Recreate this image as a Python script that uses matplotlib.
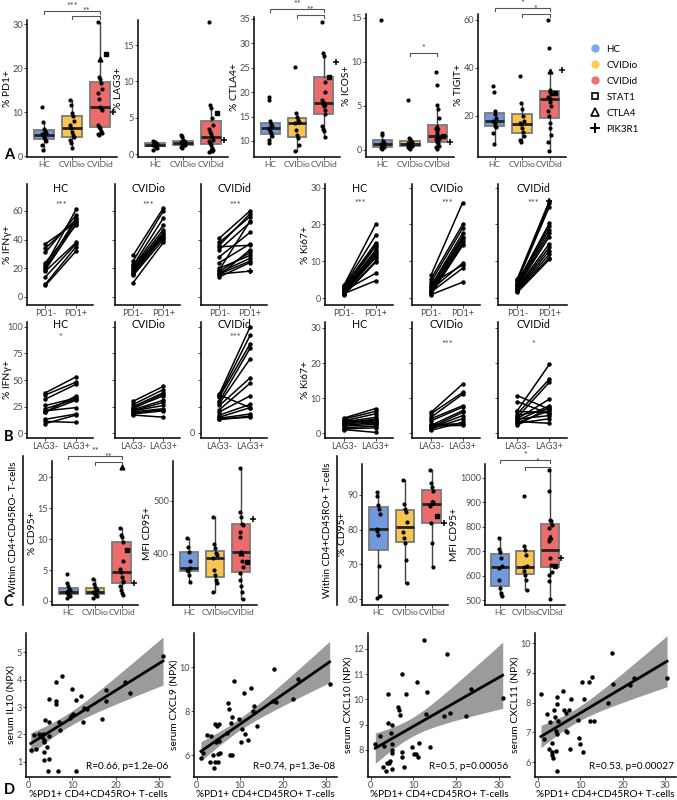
import numpy as np
import matplotlib.pyplot as plt
from matplotlib.lines import Line2D

plt.rcParams['font.family'] = ['Lato', 'DejaVu Sans']

# ---- data ----
groups = ['HC', 'CVIDio', 'CVIDid']
group_cols = ['#7199DE', '#F8C64E', '#EE6B6B']
legend_cols = ['#7FA6EE', '#FCCB52', '#F07272']

# panel A  (HC, CVIDio, CVIDid, [STAT1, CTLA4, PIK3R1])
pd1_hc = [11.3, 7.7, 6.2, 5.8, 5.3, 5.0, 4.7, 4.4, 4.0, 3.5, 2.5, 1.3]
pd1_o = [12.8, 11.6, 9.8, 9.1, 8.0, 7.0, 6.3, 5.5, 4.8, 4.3, 3.6, 2.9, 1.8]
pd1_d = [30.5, 18.0, 17.5, 16.7, 15.2, 14.3, 13.0, 11.3, 11.0, 10.5, 7.0, 6.6, 6.3, 5.8, 5.3, 5.0, 4.7]
pd1_mut = [23.3, 22.1, 10.0]

lag3_hc = [1.8, 1.7, 1.6, 1.5, 1.4, 1.3, 1.2, 1.1, 1.0, 0.8, 0.6]
lag3_o = [2.6, 2.3, 2.0, 1.8, 1.7, 1.6, 1.5, 1.4, 1.3, 1.2, 1.0, 0.8]
lag3_d = [18.2, 6.7, 6.3, 5.0, 4.0, 3.5, 3.0, 2.8, 2.3, 2.0, 1.8, 1.5, 1.2, 0.8, 0.5, 0.3]
lag3_mut = [5.7, 0.5, 2.0]

ctla4_hc = [18.9, 18.3, 14.0, 13.5, 13.0, 12.7, 12.4, 12.0, 11.6, 11.0, 10.2, 9.6]
ctla4_o = [25.2, 15.8, 15.0, 14.2, 13.8, 13.6, 12.2, 11.3, 10.5, 9.2, 8.0]
ctla4_d = [34.3, 28.1, 27.4, 22.0, 20.1, 18.3, 17.8, 17.2, 16.4, 15.5, 13.0, 12.5, 12.0, 10.8]
ctla4_mut = [23.0, 17.8, 26.1]

icos_hc = [14.8, 1.9, 1.7, 1.0, 0.8, 0.7, 0.6, 0.5, 0.4, 0.3, 0.2, 0.1]
icos_o = [5.7, 1.4, 1.2, 1.0, 0.9, 0.8, 0.7, 0.6, 0.5, 0.4, 0.3, 0.2, 0.1]
icos_d = [8.9, 7.4, 5.1, 4.6, 3.6, 2.5, 2.2, 1.8, 1.5, 1.3, 1.2, 1.1, 0.9, 0.8, 0.5, 0.3, 0.1]
icos_mut = [1.6, 2.6, 0.9]

tigit_hc = [32.5, 30.0, 22.0, 21.0, 19.0, 18.0, 17.5, 17.0, 16.0, 15.5, 13.0, 8.5]
tigit_o = [36.8, 25.5, 23.0, 20.0, 18.0, 17.0, 16.5, 15.0, 13.5, 11.5, 10.0, 9.0]
tigit_d = [60.0, 48.5, 31.0, 30.0, 29.0, 28.0, 27.5, 27.0, 26.0, 24.0, 22.0, 20.0, 17.0, 15.0, 12.0, 9.0, 5.5]
tigit_mut = [29.5, 38.8, 39.0]

# panel B  paired values (negative, positive)
ifng_pd1_hc = ([37, 34, 31, 24, 22, 21, 19, 18, 14, 9, 8, 20],
               [52, 54, 57, 50, 61, 53, 51, 38, 37, 35, 32, 55])
ifng_pd1_o = ([29, 25, 22, 21, 20, 19, 18, 17, 16, 15, 10, 23],
              [62, 60, 55, 50, 47, 45, 44, 43, 42, 40, 38, 41])
ifng_pd1_d = ([41, 38, 36, 35, 33, 28, 24, 20, 19, 18, 17, 16, 15, 14, 16],
              [60, 56, 58, 36, 52, 45, 37, 29, 53, 31, 27, 25, 33, 24, 18])
ki_pd1_hc = ([3.5, 3.3, 3.0, 2.8, 2.5, 2.2, 2.0, 1.8, 1.5, 1.3, 1.0, 0.8, 2.0, 1.2],
             [20, 17, 15, 14.5, 14, 13, 12.5, 12, 11.5, 11, 10, 9.7, 6.7, 4.7])
ki_pd1_o = ([6.2, 5.2, 4.3, 3.3, 2.9, 2.4, 1.9, 1.4, 1.0, 2.2, 3.8, 1.6, 0.9],
            [25.9, 20, 19, 17.6, 16.7, 16.2, 15.5, 14.8, 14.3, 9.5, 9.0, 8.1, 4.3])
ki_pd1_d = ([5.2, 4.8, 4.5, 4.2, 3.9, 3.6, 3.3, 3.0, 2.8, 2.5, 2.2, 2.0, 1.8, 1.5],
            [26.4, 25.7, 24.8, 20.3, 19.5, 18.6, 17.6, 16.7, 14.8, 13.8, 12.9, 11.9, 11.0, 10.5])
ifng_lag3_hc = ([38, 36, 32, 26, 23, 21, 20, 13, 11, 9, 20],
                [53, 48, 46, 33, 32, 24, 35, 18, 10, 17, 31])
ifng_lag3_o = ([30, 27, 25, 23, 22, 21, 21, 20, 19, 18, 17, 24],
               [44, 41, 38, 37, 31, 29, 26, 23, 22, 21, 15, 35])
ifng_lag3_d = ([37, 35, 34, 30, 28, 26, 22, 20, 17, 15, 14, 13, 13, 36],
               [100, 92, 84, 80, 70, 52, 47, 35, 27, 24, 18, 16, 15, 24])
ki_lag3_hc = ([4.3, 4.0, 3.5, 3.2, 3.0, 2.5, 2.2, 2.0, 1.5, 1.2, 1.0, 3.8, 2.7],
              [7.0, 6.2, 5.5, 4.5, 4.0, 3.5, 3.0, 2.5, 2.0, 1.5, 0.2, 2.8, 3.8])
ki_lag3_o = ([5.9, 5.5, 4.5, 4.1, 3.5, 2.2, 1.7, 1.5, 1.2, 0.8, 2.5, 2.0],
             [14.0, 11.6, 11.1, 7.8, 7.4, 6.4, 5.9, 5.0, 4.1, 3.1, 2.6, 2.2])
ki_lag3_d = ([10.7, 9.0, 6.4, 5.5, 4.5, 4.1, 3.6, 2.2, 5.0, 3.0, 4.0, 2.8, 3.3, 6.2],
             [6.8, 5.5, 19.6, 15.4, 14.5, 9.7, 7.8, 7.4, 6.9, 6.4, 5.0, 4.1, 2.8, 5.8])

# panel C
cd95_hc = [4.3, 2.9, 2.4, 1.9, 1.7, 1.5, 1.4, 1.2, 1.0, 0.8, 0.4]
cd95_o = [3.5, 2.8, 2.3, 2.0, 1.8, 1.5, 1.4, 1.2, 1.0, 0.8, 0.5]
cd95_d = [11.8, 10.7, 10.4, 9.6, 6.4, 5.2, 4.6, 3.8, 3.3, 3.1, 2.4, 1.8, 1.3, 0.9]
cd95_mut = [8.2, 21.7, 2.9]

mfi_hc = [430, 414, 404, 386, 373, 370, 368, 361, 348]
mfi_o = [470, 418, 411, 402, 398, 392, 370, 361, 351, 345, 329]
mfi_d = [562, 479, 470, 457, 454, 442, 432, 404, 386, 376, 364, 351, 339, 329, 315]
mfi_mut = [384, 402, 465]

cd95ro_hc = [90.8, 89.6, 87.2, 86.0, 84.5, 80.2, 79.5, 78.6, 69.5, 60.9, 60.2]
cd95ro_o = [94.3, 87.3, 86.0, 85.0, 82.2, 79.3, 77.6, 76.2, 71.2, 64.7]
cd95ro_d = [97.2, 93.3, 92.4, 91.0, 88.0, 86.7, 81.9, 76.2, 69.2]
cd95ro_mut = [84.0, 87.9, 82.0]

mfiro_hc = [754, 709, 696, 672, 640, 631, 583, 549, 531, 518]
mfiro_o = [925, 720, 706, 686, 640, 634, 618, 604, 583, 542]
mfiro_d = [1034, 945, 829, 822, 808, 795, 740, 672, 645, 617, 604, 579, 504]
mfiro_mut = [641, 760, 672]

# panel D  (x = %PD1+ CD4+CD45RO+ T-cells)
il10_x = [0.5, 1.15, 1.7, 2.3, 2.6, 3.1, 3.2, 3.6, 3.6, 3.6, 3.5, 3.8, 4.2, 4.4, 4.6, 4.6, 4.6, 4.8,
          6.2, 6.3, 6.3, 6.7, 7.1, 7.2, 7.7, 9.5, 9.8, 10.0, 10.3, 10.8, 10.9, 12.1, 12.5, 12.8,
          13.4, 16.9, 17.7, 17.8, 22.1, 23.2, 30.9]
il10_y = [1.42, 1.97, 1.48, 2.03, 1.94, 1.91, 2.03, 1.79, 1.73, 1.36, 1.06, 2.52, 1.55, 0.67, 3.3, 2.45,
          1.94, 1.12, 3.21, 3.1, 3.91, 0.67, 2.45, 2.18, 4.15, 2.6, 2.67, 3.67, 2.73, 3.27, 0.67,
          3.39, 2.45, 2.97, 2.94, 2.57, 3.62, 3.21, 3.91, 3.5, 4.85]
cxcl9_x = [1.0, 1.5, 2.3, 3.0, 3.3, 3.8, 4.0, 4.2, 4.2, 4.6, 4.8, 5.0, 5.0, 5.2, 5.3, 5.5, 7.0, 7.2,
           7.4, 7.8, 8.0, 8.1, 8.2, 8.6, 9.9, 10.2, 10.5, 11.0, 11.2, 11.8, 12.5, 13.0, 13.3, 14.0,
           17.7, 18.0, 18.3, 22.3, 23.5, 30.8]
cxcl9_y = [5.85, 6.1, 6.9, 5.7, 6.85, 6.0, 5.4, 7.4, 5.7, 6.6, 7.3, 5.7, 6.05, 7.4, 6.65, 6.1, 7.0, 8.35,
           8.1, 6.0, 7.45, 6.0, 7.75, 9.35, 7.65, 6.6, 7.2, 8.8, 6.95, 6.7, 9.05, 8.0, 8.25, 7.3,
           8.45, 9.9, 8.4, 8.55, 9.45, 9.25]
cxcl10_x = [1.1, 2.3, 2.8, 3.2, 3.6, 3.8, 4.1, 4.1, 4.4, 4.6, 4.7, 5.0, 5.0, 5.0, 5.1, 5.0, 6.5, 6.7,
            6.8, 7.3, 7.3, 7.4, 7.8, 8.2, 9.7, 10.1, 10.5, 10.9, 11.0, 11.4, 12.5, 13.0, 13.2, 13.8,
            17.2, 17.7, 18.4, 22.3, 23.5, 30.8]
cxcl10_y = [8.24, 8.55, 7.33, 8.17, 7.18, 7.47, 10.2, 9.06, 7.5, 7.58, 8.69, 8.99, 8.24, 8.0, 7.87, 7.24,
            9.69, 9.58, 9.39, 7.93, 7.71, 11.0, 7.32, 10.2, 8.13, 7.84, 7.84, 10.7, 7.74, 8.27,
            12.36, 9.43, 10.3, 8.13, 9.35, 11.8, 9.48, 9.36, 10.4, 10.07]
cxcl11_x = [0.8, 1.4, 2.1, 2.6, 2.9, 3.3, 3.5, 3.5, 3.7, 3.8, 4.0, 4.3, 4.4, 4.6, 4.6, 4.6, 4.6, 4.8,
            6.0, 6.3, 6.6, 6.7, 6.9, 7.3, 7.5, 7.9, 9.6, 9.8, 9.9, 10.5, 10.7, 10.9, 12.1, 12.4,
            12.7, 13.2, 16.6, 17.4, 17.6, 21.6, 22.7, 30.4]
cxcl11_y = [8.28, 6.79, 7.63, 6.45, 7.35, 6.34, 6.64, 6.23, 6.15, 7.75, 7.52, 6.37, 7.04, 8.2, 7.94, 6.95,
            5.7, 7.38, 8.4, 7.75, 7.66, 7.05, 7.0, 7.75, 6.45, 8.12, 7.4, 6.82, 6.62, 8.7, 6.34,
            8.12, 8.7, 7.38, 8.87, 7.38, 8.0, 9.68, 8.64, 8.6, 8.82, 8.82]
corr_text = ['R=0.66, p=1.2e-06', 'R=0.74, p=1.3e-08', 'R=0.5, p=0.00056', 'R=0.53, p=0.00027']

# ---- figure ----
W, H = 677, 800
fig = plt.figure(figsize=(W / 100, H / 100), dpi=100)
TICK = '#4D4D4D'
TS = 6.6   # tick label size
LS = 7.4   # axis title size
SIG = '#444444'


def px_axes(l, t, r, b):
    return fig.add_axes([l / W, 1 - b / H, (r - l) / W, (b - t) / H])


def classic(ax):
    for s in ['top', 'right']:
        ax.spines[s].set_visible(False)
    for s in ['left', 'bottom']:
        ax.spines[s].set_linewidth(1.1)
    ax.tick_params(length=2, width=0.6, colors='#333333', labelcolor=TICK, labelsize=TS, pad=0.8)


def ylab(ax, text):
    ax.set_ylabel(text, fontsize=LS, labelpad=0.6)


def jitter(n):
    return ((np.arange(n) % 5) - 2) * 0.03


def box_panel(rect, hc, o, d, mut, ylim, yticks, ylabel, sigs=()):
    ax = px_axes(*rect)
    classic(ax)
    vals = [hc, o, d + mut]
    bp = ax.boxplot(vals, positions=[1, 2, 3], widths=0.7, patch_artist=True, showfliers=False,
                    medianprops=dict(color='#222222', lw=2.0),
                    boxprops=dict(edgecolor='#7A7A7A', lw=1.3),
                    whiskerprops=dict(color='#444444', lw=1.0), capprops=dict(lw=0))
    for patch, c in zip(bp['boxes'], group_cols):
        patch.set_facecolor(c)
    for i, v in enumerate([hc, o, d]):
        ax.plot(i + 1 + jitter(len(v)), v, 'o', color='black', ms=3.0, mew=0, zorder=3)
    ax.plot(3.2, mut[0], 's', color='black', ms=3.0, zorder=4)
    ax.plot(3.0, mut[1], '^', color='black', ms=3.4, zorder=4)
    ax.plot(3.45, mut[2], '+', color='black', ms=5.0, mew=1.1, zorder=4)
    ax.set_xlim(0.4, 3.6)
    ax.set_ylim(*ylim)
    ax.set_yticks(yticks)
    ax.set_xticks([1, 2, 3], groups)
    ax.tick_params(axis='x', labelsize=6.1)
    ylab(ax, ylabel)
    hpx = (rect[3] - rect[1])
    dd = (ylim[1] - ylim[0]) * 3 / hpx
    for x1, x2, y, lab in sigs:
        ax.plot([x1, x1, x2, x2], [y - dd, y, y, y - dd], color='#555555', lw=0.8, clip_on=False)
        ax.text((x1 + x2) / 2, y + dd * 0.1, lab, ha='center', va='bottom', fontsize=6.5, color=SIG)
    return ax


def pair_panel(rect, pairs, ylim, yticks, title, title_y, sig, sig_y, xlabs, ylabel=None):
    ax = px_axes(*rect)
    classic(ax)
    neg, pos = pairs
    for a, b in zip(neg, pos):
        ax.plot([1, 2], [a, b], '-o', color='black', lw=1.1, ms=2.2)
    ax.set_xlim(0.4, 2.55)
    ax.set_ylim(*ylim)
    ax.set_yticks(yticks)
    ax.set_xticks([1, 2], xlabs)
    if ylabel:
        ylab(ax, ylabel)
    else:
        ax.set_yticklabels([])
    ax.text(1.5, title_y, title, ha='center', va='center', fontsize=LS + 0.3)
    if sig:
        ax.text(1.5, sig_y, sig, ha='center', va='center', fontsize=6.5, color=SIG)
    return ax


# ---- panel A ----
box_panel((27, 20, 117, 157), pd1_hc, pd1_o, pd1_d, pd1_mut, (-0.2, 31), [0, 10, 20, 30], '% PD1+',
          [(1, 3, 33.0, '***'), (2, 3, 31.8, '**')])
box_panel((138, 20, 228, 157), lag3_hc, lag3_o, lag3_d, lag3_mut, (-0.4, 18.45), [0, 5, 10, 15], '% LAG3+')
box_panel((254, 17, 340, 157), ctla4_hc, ctla4_o, ctla4_d, ctla4_mut, (6.7, 35.4), [10, 15, 20, 25, 30, 35],
          '% CTLA4+', [(1, 3, 37.0, '**'), (2, 3, 35.8, '**')])
box_panel((366, 14, 454, 157), icos_hc, icos_o, icos_d, icos_mut, (-0.8, 15.45), [0, 5, 10, 15], '% ICOS+',
          [(2, 3, 11.0, '*')])
box_panel((478, 14, 566, 157), tigit_hc, tigit_o, tigit_d, tigit_mut, (2.9, 62.5), [20, 40, 60], '% TIGIT+',
          [(1, 3, 65.0, '*'), (2, 3, 62.5, '*')])

handles = [Line2D([], [], ls='', marker='o', ms=6, mew=0, color=c) for c in legend_cols]
handles += [Line2D([], [], ls='', marker='s', ms=5, mfc='none', mec='black', mew=1.2),
            Line2D([], [], ls='', marker='^', ms=5.5, mfc='none', mec='black', mew=1.2),
            Line2D([], [], ls='', marker='+', ms=6.5, color='black', mew=1.4)]
fig.legend(handles, groups + ['STAT1', 'CTLA4', 'PIK3R1'], loc='upper left',
           bbox_to_anchor=(585 / W, 1 - 41 / H), frameon=False, fontsize=7, labelspacing=0.72,
           handletextpad=0.6, handlelength=1.2, borderaxespad=0)

# ---- panel B ----
lefts = [(27, 93), (115, 180), (201, 267)]
rights = [(325, 393), (412, 480), (498, 567)]
row1 = [ifng_pd1_hc, ifng_pd1_o, ifng_pd1_d]
row1k = [ki_pd1_hc, ki_pd1_o, ki_pd1_d]
row2 = [ifng_lag3_hc, ifng_lag3_o, ifng_lag3_d]
row2k = [ki_lag3_hc, ki_lag3_o, ki_lag3_d]
sig_r2 = ['*', '', '***']
sig_r2k = ['', '***', '*']
for i in range(3):
    ax = pair_panel((lefts[i][0], 184, lefts[i][1], 305), row1[i], (-5.6, 78.7), [0, 20, 40, 60], groups[i],
                    75.8, '***', 64, ['PD1-', 'PD1+'], '% IFNγ+' if i == 0 else None)
    if i == 2:
        ax.plot(2, row1[i][1][-1], '+', color='black', ms=5, mew=1.1)
    ax = pair_panel((rights[i][0], 184, rights[i][1], 305), row1k[i], (-1.9, 31), [0, 10, 20, 30], groups[i],
                    29.9, '***', 25.7, ['PD1-', 'PD1+'], '% Ki67+' if i == 0 else None)
    if i == 2:
        ax.plot(2, row1k[i][1][0], '+', color='black', ms=5, mew=1.1)
    ax = pair_panel((lefts[i][0], 322, lefts[i][1], 438), row2[i], (-4.6, 104.6), [0, 25, 50, 75, 100],
                    groups[i], 102.0, sig_r2[i], 90, ['LAG3-', 'LAG3+'], '% IFNγ+' if i == 0 else None)
    if i == 0:
        # three-digit ticks: keep the title inside the figure
        ax.yaxis.label.set_va('center')
        ax.yaxis.set_label_coords(-20 / 66, 0.5)
    if i == 2:
        ax.text(-0.09, 0, '0', transform=ax.get_yaxis_transform(), ha='right', va='center',
                fontsize=TS, color=TICK)
    pair_panel((rights[i][0], 322, rights[i][1], 438), row2k[i], (-1.4, 31.7), [0, 10, 20, 30],
               groups[i], 31.0, sig_r2k[i], 25.3, ['LAG3-', 'LAG3+'], '% Ki67+' if i == 0 else None)

# ---- panel C ----
box_panel((52, 461, 138, 605), cd95_hc, cd95_o, cd95_d, cd95_mut, (-0.65, 22.6), [0, 5, 10, 15, 20],
          '% CD95+', [(1, 3, 23.4, '**'), (2, 3, 22.4, '**')])
box_panel((173, 461, 257, 605), mfi_hc, mfi_o, mfi_d, mfi_mut, (304, 575), [400, 500], 'MFI CD95+')
box_panel((362, 464, 448, 605), cd95ro_hc, cd95ro_o, cd95ro_d, cd95ro_mut, (58.3, 98.9), [60, 70, 80, 90],
          '% CD95+')
box_panel((485, 464, 565, 605), mfiro_hc, mfiro_o, mfiro_d, mfiro_mut, (480, 1057),
          [500, 600, 700, 800, 900, 1000], 'MFI CD95+', [(1, 3, 1072, '*'), (2, 3, 1043, '*')])
for xl in [23, 337]:
    fig.add_artist(Line2D([xl / W, xl / W], [1 - 605 / H, 1 - 456 / H], color='black', lw=1.1))
fig.text(14 / W, 1 - 528 / H, 'Within CD4+CD45RO- T-cells', rotation=90, ha='center', va='center', fontsize=7.2)
fig.text(328 / W, 1 - 530 / H, 'Within CD4+CD45RO+ T-cells', rotation=90, ha='center', va='center', fontsize=7.2)

# ---- panel D ----
d_sets = [(il10_x, il10_y, 'serum IL10 (NPX)', (0.45, 5.7), [1, 2, 3, 4, 5], (26, 633, 170, 777)),
          (cxcl9_x, cxcl9_y, 'serum CXCL9 (NPX)', (5.0, 11.55), [6, 8, 10], (194, 633, 337, 777)),
          (cxcl10_x, cxcl10_y, 'serum CXCL10 (NPX)', (6.93, 12.63), [8, 9, 10, 11, 12], (368, 633, 510, 777)),
          (cxcl11_x, cxcl11_y, 'serum CXCL11 (NPX)', (5.5, 10.34), [6, 7, 8, 9, 10], (535, 633, 676, 777))]
for k, (xv, yv, lab, yl, yt, rect) in enumerate(d_sets):
    ax = px_axes(*rect)
    classic(ax)
    x = np.array(xv)
    y = np.array(yv)
    slope, inter = np.polyfit(x, y, 1)
    xs = np.linspace(x.min(), x.max(), 80)
    n = len(x)
    resid = y - (slope * x + inter)
    s = np.sqrt(np.sum(resid ** 2) / (n - 2))
    se = s * np.sqrt(1 / n + (xs - x.mean()) ** 2 / np.sum((x - x.mean()) ** 2))
    fit = slope * xs + inter
    ax.fill_between(xs, fit - 2.02 * se, fit + 2.02 * se, color='#9B9B9B', lw=0, zorder=1)
    ax.plot(xs, fit, color='black', lw=2, zorder=2)
    ax.plot(x, y, 'o', color='black', ms=3.2, mew=0, zorder=3)
    ax.set_xlim(-0.6, 32.5)
    ax.set_ylim(*yl)
    ax.set_yticks(yt)
    ax.set_xticks([0, 10, 20, 30])
    ylab(ax, lab)
    ax.set_xlabel('%PD1+ CD4+CD45RO+ T-cells', fontsize=7.2, labelpad=0.3)
    ax.text(0.985, 0.04, corr_text[k], transform=ax.transAxes, ha='right', va='bottom', fontsize=7.2)

# panel letters
for lab, (x, y) in zip('ABCD', [(4, 155), (4, 437), (4, 602), (4, 790)]):
    fig.text(x / W, 1 - y / H, lab, fontsize=10.5, fontweight='bold', ha='left', va='center')

fig.savefig('out.png', dpi=100)
